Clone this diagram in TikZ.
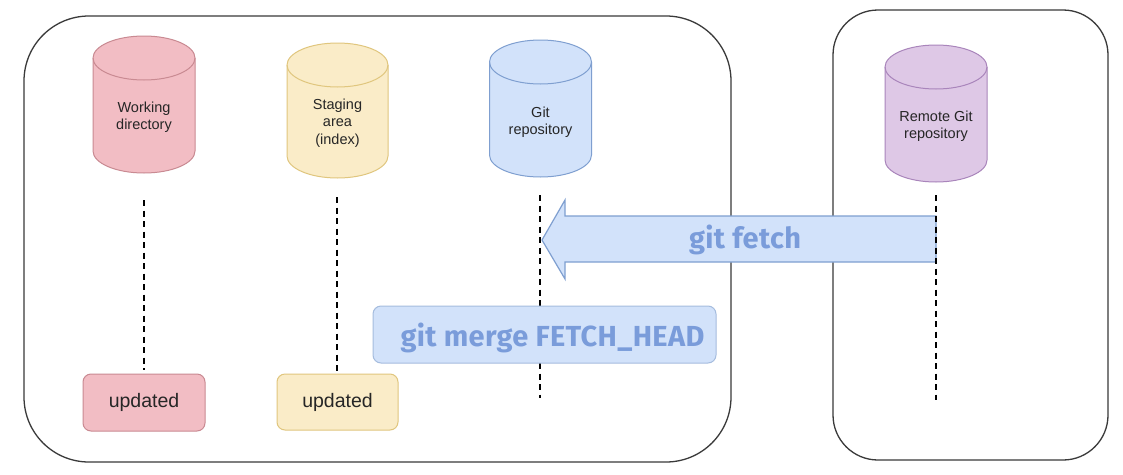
\documentclass[tikz,border=0pt]{standalone}
\usepackage{fontspec}
\setmainfont{Liberation Sans}
\newfontfamily\comicfont{Fira Sans}[LetterSpace=1.2]
\definecolor{redfill}{HTML}{F2BDC4}
\definecolor{reddraw}{HTML}{C98A92}
\definecolor{yelfill}{HTML}{FAECC8}
\definecolor{yeldraw}{HTML}{E0C67E}
\definecolor{bluefill}{HTML}{D2E2FA}
\definecolor{bluedraw}{HTML}{7F9FD0}
\definecolor{purfill}{HTML}{DEC8E6}
\definecolor{purdraw}{HTML}{A985BB}
\definecolor{comictext}{HTML}{7A9CDA}
\definecolor{frame}{HTML}{3A3A3A}
\tikzset{
  framebox/.style={draw=frame, line width=1.3pt},
  life/.style={line width=1.8pt, dash pattern=on 6pt off 4.5pt},
  cyltext/.style={font=\fontsize{14.5}{17.5}\selectfont, align=center, text=black!85},
  updbox/.style={rounded corners=8pt, line width=1pt, minimum width=122pt, minimum height=57pt, font=\fontsize{19.5}{22}\selectfont, text=black!85},
  comic/.style={font=\comicfont\bfseries\fontsize{29}{32}\selectfont, text=comictext}
}
% \cylshape{cx}{ytop}{ybot}{rx}{ry}{fill}{draw}
\newcommand{\cylshape}[7]{%
  \filldraw[fill=#6, draw=#7, line width=1pt]
    (#1-#4,#2+#5) -- (#1-#4,#3-#5) arc (180:0:#4 and #5)
    -- (#1+#4,#2+#5) arc (0:-180:#4 and #5) -- cycle;
  \draw[draw=#7, line width=1pt] (#1-#4,#2+#5) arc (180:0:#4 and #5);
}
\begin{document}
\begin{tikzpicture}[x=1pt,y=-1pt]
\useasboundingbox (0,0) rectangle (1123,474);
\fill[white] (0,0) rectangle (1123,474);

% frames
\draw[framebox, rounded corners=65pt] (24,16) rectangle (731,462);
\draw[framebox, rounded corners=45pt] (833,10) rectangle (1108,460);

% cylinders
\cylshape{144}{36}{173}{51}{22}{redfill}{reddraw}
\node[cyltext] (wd) at (144,117) {Working\\directory};
\cylshape{337.5}{43}{178}{50.5}{22}{yelfill}{yeldraw}
\node[cyltext] (sa) at (337.5,123) {Staging\\area\\(index)};
\cylshape{540.5}{40}{177}{51}{22}{bluefill}{bluedraw}
\node[cyltext] (gr) at (540.5,122) {Git\\repository};
\cylshape{936}{45}{182}{51}{22}{purfill}{purdraw}
\node[cyltext] (rr) at (936,126) {Remote Git\\repository};

% lifeline anchors
\coordinate (wdT) at (144,200);  \coordinate (wdB) at (144,370);
\coordinate (saT) at (337,197);  \coordinate (saB) at (337,373);
\coordinate (grT) at (540,195);  \coordinate (grB) at (540,398);
\coordinate (rrT) at (936,195);  \coordinate (rrB) at (936,400);

% fetch arrow
\filldraw[fill=bluefill, draw=bluedraw, line width=1.2pt]
  (936,216) -- (565,216) -- (565,200) -- (542,240) -- (565,279) -- (565,262) -- (936,262) -- cycle;
\node[comic] (fetch) at (745,240) {git fetch};

% lifelines
\draw[life] (wdT) -- (wdB);
\draw[life] (saT) -- (saB);
\draw[life] (grT) -- (grB);
\draw[life] (rrT) -- (rrB);

% merge box
\node[fill=bluefill, draw=bluedraw!70, line width=1pt, rounded corners=8pt,
      minimum width=343pt, minimum height=57pt, inner sep=0pt] (mergebox) at (544.5,334.5) {};
\node[comic, anchor=center] (merge) at (552.5,338) {git merge FETCH\_HEAD};

% updated boxes
\node[updbox, fill=redfill, draw=reddraw] (u1) at (144,402.5) {updated};
\node[updbox, fill=yelfill, draw=yeldraw, minimum width=121pt, minimum height=56pt] (u2) at (337.5,402) {updated};
\end{tikzpicture}
\end{document}
